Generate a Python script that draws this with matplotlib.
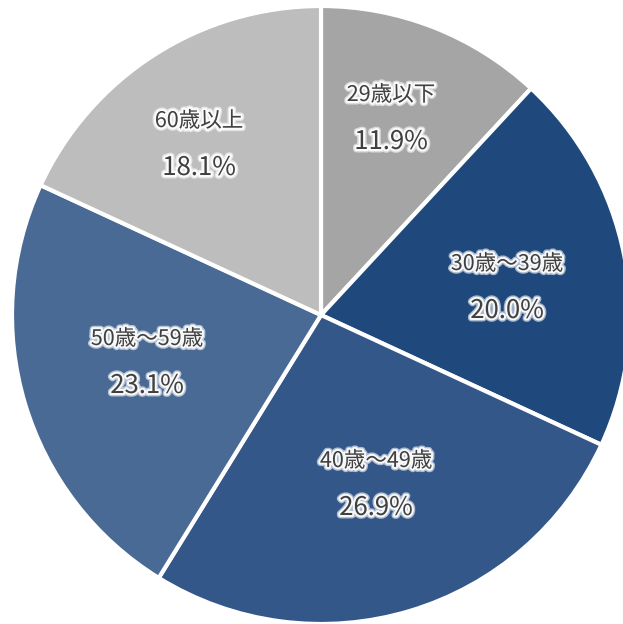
import matplotlib
matplotlib.use("Agg")
import matplotlib.pyplot as plt
import matplotlib.patheffects as pe

plt.rcParams['font.family'] = ['Noto Sans CJK JP', 'DejaVu Sans']

# Age distribution
categories = ["29歳以下", "30歳～39歳", "40歳～49歳", "50歳～59歳", "60歳以上"]
shares = [11.9, 20.0, 26.9, 23.1, 18.1]
colors = ["#a5a5a5", "#1f497d", "#34578a", "#4a6a96", "#bdbdbd"]

# label anchor points (pixel space, origin top-left)
label_pos = [(391, 95), (507, 264), (376, 461), (147, 339), (199, 121)]

W, H = 623, 624
fig = plt.figure(figsize=(W / 100, H / 100), dpi=100)
ax = fig.add_axes([0, 0, 1, 1])

cx, cy, r = 321, H - 315, 309
ax.pie(shares, colors=colors, startangle=90, counterclock=False,
       center=(cx, cy), radius=r, frame=True,
       wedgeprops=dict(edgecolor='white', linewidth=3))
ax.set_xlim(0, W)
ax.set_ylim(0, H)
ax.set_aspect('equal')
ax.axis('off')

glow = [pe.withStroke(linewidth=5, foreground='white', alpha=0.6),
        pe.withStroke(linewidth=3, foreground='white', alpha=0.9)]
for cat, val, (px, py) in zip(categories, shares, label_pos):
    ax.text(px, H - py, cat, ha='center', va='center', fontsize=15.5,
            color='#404040', path_effects=glow)
    ax.text(px, H - py - 47, f"{val:.1f}%", ha='center', va='center',
            fontsize=18.5, color='#404040', path_effects=glow)

fig.savefig("out.png", dpi=100)
